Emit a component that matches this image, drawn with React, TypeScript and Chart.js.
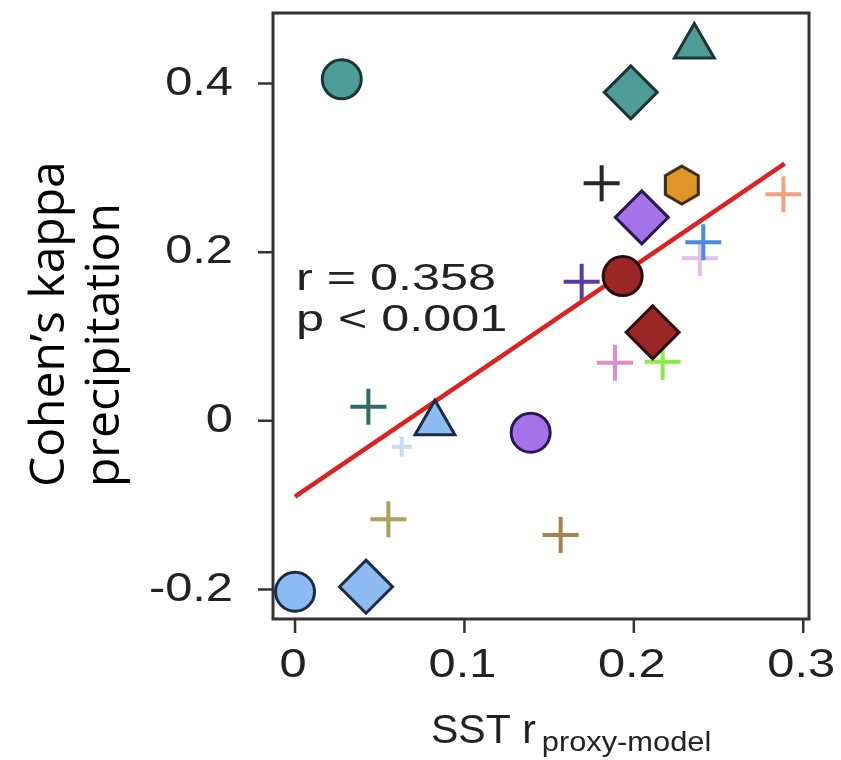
import { useEffect, useRef } from 'react';
import { Chart, registerables } from 'chart.js';

Chart.register(...registerables);

// Axis ticks and titles
const X_TICKS = [0, 0.1, 0.2, 0.3];
const X_TICK_LABELS = ['0', '0.1', '0.2', '0.3'];
const Y_TICKS = [-0.2, 0, 0.2, 0.4];
const Y_TICK_LABELS = ['-0.2', '0', '0.2', '0.4'];
const X_TITLE = 'SST r';
const X_TITLE_SUB = 'proxy-model';
const Y_TITLE_LINES = ['Cohen\u2019s kappa', 'precipitation'];
const STATS_LINES = ['r = 0.358', 'p < 0.001'];

// Proxy records drawn as crosses
const CROSS_X = [0.181, 0.1692, 0.239, 0.241, 0.2883, 0.1889, 0.217, 0.0433, 0.063, 0.0551, 0.1568];
const CROSS_Y = [0.2816, 0.165, 0.1927, 0.2117, 0.2686, 0.0689, 0.07, 0.0167, -0.0307, -0.1168, -0.1354];
const CROSS_COLORS = ['#262626', '#5a3aa6', '#e3bfe9', '#4a8ae0', '#f2a282', '#e48cc6', '#86ec46', '#2f6b63', '#c8dcf2', '#aaa256', '#a8824e'];
const CROSS_SIZES = [18, 18, 18, 18, 18, 18, 18, 18, 10, 18, 18];

// Model-based records drawn as filled symbols
const CIRCLE_X = [0.0276, 0.1934, 0.1391, 0.0];
const CIRCLE_Y = [0.405, 0.1717, -0.0141, -0.2027];
const CIRCLE_FILL = ['#4e9c98', '#9b2626', '#a473ea', '#8cbbf2'];
const CIRCLE_EDGE = ['#1d3634', '#2b0c0c', '#2c1850', '#1c2c44'];

const DIAMOND_X = [0.1982, 0.2047, 0.2111, 0.0419];
const DIAMOND_Y = [0.3895, 0.2413, 0.105, -0.1967];
const DIAMOND_FILL = ['#4e9c98', '#a473ea', '#9b2626', '#8cbbf2'];
const DIAMOND_EDGE = ['#1d3634', '#2c1850', '#2b0c0c', '#1c2c44'];

const TRIANGLE_X = [0.2357, 0.0826];
const TRIANGLE_Y = [0.444, -0.003];
const TRIANGLE_FILL = ['#4e9c98', '#8cbbf2'];
const TRIANGLE_EDGE = ['#1d3634', '#1c2c44'];

const HEXAGON_X = [0.2283];
const HEXAGON_Y = [0.2796];
const HEXAGON_FILL = ['#e0942a'];
const HEXAGON_EDGE = ['#3b2a14'];

// Least-squares fit end points
const FIT_X = [0, 0.289];
const FIT_Y = [-0.09, 0.305];

const pairs = (xs: number[], ys: number[]) => xs.map((x, i) => ({ x, y: ys[i] }));

function hexagonMarker(fill: string, edge: string) {
  const c = document.createElement('canvas');
  c.width = 46;
  c.height = 46;
  const g = c.getContext('2d')!;
  g.beginPath();
  for (let k = 0; k < 6; k++) {
    const t = -Math.PI / 2 + (k * Math.PI) / 3;
    const px = 23 + 19 * Math.cos(t);
    const py = 23 + 19 * Math.sin(t);
    if (k === 0) g.moveTo(px, py);
    else g.lineTo(px, py);
  }
  g.closePath();
  g.fillStyle = fill;
  g.fill();
  g.lineWidth = 3;
  g.strokeStyle = edge;
  g.stroke();
  return c;
}

const frameAndText = {
  id: 'frameAndText',
  afterDraw(chart: any) {
    const { ctx, chartArea: a, scales } = chart;
    const xs = scales.x;
    const ys = scales.y;
    ctx.save();

    // box frame and outward ticks
    ctx.strokeStyle = '#333333';
    ctx.lineWidth = 3;
    ctx.strokeRect(a.left, a.top, a.right - a.left, a.bottom - a.top);
    ctx.lineWidth = 2.5;
    ctx.beginPath();
    Y_TICKS.forEach((v) => {
      const y = ys.getPixelForValue(v);
      ctx.moveTo(a.left - 15, y);
      ctx.lineTo(a.left, y);
    });
    X_TICKS.forEach((v) => {
      const x = xs.getPixelForValue(v);
      ctx.moveTo(x, a.bottom);
      ctx.lineTo(x, a.bottom + 14);
    });
    ctx.stroke();

    const sans = '"Liberation Sans", Arial, Helvetica, sans-serif';
    const wide = (text: string, x: number, y: number, size: number, sx: number, align: string, baseline: string) => {
      ctx.save();
      ctx.translate(x, y);
      ctx.scale(sx, 1);
      ctx.font = `${size}px ${sans}`;
      ctx.textAlign = align;
      ctx.textBaseline = baseline;
      ctx.fillText(text, 0, 0);
      const w = ctx.measureText(text).width * sx;
      ctx.restore();
      return w;
    };

    ctx.fillStyle = '#222222';
    Y_TICKS.forEach((v, i) => wide(Y_TICK_LABELS[i], a.left - 40, ys.getPixelForValue(v), 40, 1.22, 'right', 'middle'));
    X_TICKS.forEach((v, i) => wide(X_TICK_LABELS[i], xs.getPixelForValue(v) - 2, a.bottom + 47, 40, 1.22, 'center', 'middle'));

    // x-axis title with subscript
    const tx = 431;
    const w = wide(X_TITLE, tx, a.bottom + 124, 41, 1.0, 'left', 'alphabetic');
    wide(X_TITLE_SUB, tx + w + 6, a.bottom + 132, 28, 1.1, 'left', 'alphabetic');

    // correlation statistics
    STATS_LINES.forEach((line, i) => wide(line, 296, 290 + i * 41, 37, 1.36, 'left', 'alphabetic'));

    // rotated y-axis title
    ctx.fillStyle = '#000000';
    ctx.font = '48px "Open Sans", "Noto Sans", sans-serif';
    ctx.textAlign = 'left';
    ctx.textBaseline = 'alphabetic';
    Y_TITLE_LINES.forEach((line, i) => {
      ctx.save();
      ctx.translate(64 + i * 55, 487);
      ctx.rotate(-Math.PI / 2);
      ctx.fillText(line, 0, 0);
      ctx.restore();
    });

    ctx.restore();
  },
};

export default function App() {
  const canvasRef = useRef<HTMLCanvasElement | null>(null);

  useEffect(() => {
    const canvas = canvasRef.current;
    if (!canvas) return;
    const hexStyles = HEXAGON_FILL.map((f, i) => hexagonMarker(f, HEXAGON_EDGE[i]));

    const chart = new Chart(canvas, {
      type: 'scatter',
      data: {
        datasets: [
          {
            label: 'circles',
            data: pairs(CIRCLE_X, CIRCLE_Y),
            pointStyle: 'circle',
            pointRadius: 19.5,
            pointBorderWidth: 3,
            pointBackgroundColor: CIRCLE_FILL,
            pointBorderColor: CIRCLE_EDGE,
            order: 1,
          },
          {
            label: 'diamonds',
            data: pairs(DIAMOND_X, DIAMOND_Y),
            pointStyle: 'rectRot',
            pointRadius: 26.5,
            pointBorderWidth: 3,
            pointBackgroundColor: DIAMOND_FILL,
            pointBorderColor: DIAMOND_EDGE,
            order: 1,
          },
          {
            label: 'triangles',
            data: pairs(TRIANGLE_X, TRIANGLE_Y),
            pointStyle: 'triangle',
            pointRadius: 23,
            pointBorderWidth: 3,
            pointBackgroundColor: TRIANGLE_FILL,
            pointBorderColor: TRIANGLE_EDGE,
            order: 1,
          },
          {
            label: 'hexagons',
            data: pairs(HEXAGON_X, HEXAGON_Y),
            pointStyle: hexStyles as any,
            pointRadius: 20,
            order: 1,
          },
          {
            label: 'fit',
            data: pairs(FIT_X, FIT_Y),
            showLine: true,
            borderColor: '#dd2222',
            borderWidth: 4.5,
            pointRadius: 0,
            order: 2,
          },
          {
            label: 'crosses',
            data: pairs(CROSS_X, CROSS_Y),
            pointStyle: 'cross',
            pointRadius: CROSS_SIZES,
            pointBorderWidth: 4,
            pointBorderColor: CROSS_COLORS,
            pointBackgroundColor: CROSS_COLORS,
            order: 3,
          },
        ],
      },
      options: {
        responsive: false,
        animation: false,
        devicePixelRatio: 1,
        events: [],
        layout: { autoPadding: false, padding: { left: 0, top: 13, right: 32, bottom: 0 } },
        plugins: {
          legend: { display: false },
          tooltip: { enabled: false },
        },
        scales: {
          x: {
            type: 'linear',
            min: -0.013,
            max: 0.3034,
            grid: { display: false },
            border: { display: false },
            ticks: { display: false },
            afterFit: (s: any) => {
              s.height = 141;
            },
          },
          y: {
            type: 'linear',
            min: -0.235,
            max: 0.4836,
            grid: { display: false },
            border: { display: false },
            ticks: { display: false },
            afterFit: (s: any) => {
              s.width = 273;
            },
          },
        },
      },
      plugins: [frameAndText],
    });

    return () => chart.destroy();
  }, []);

  return (
    <div style={{ position: 'absolute', left: 0, top: 0, width: 841, height: 760, background: '#ffffff' }}>
      <canvas ref={canvasRef} width={841} height={760} style={{ display: 'block' }} />
    </div>
  );
}
